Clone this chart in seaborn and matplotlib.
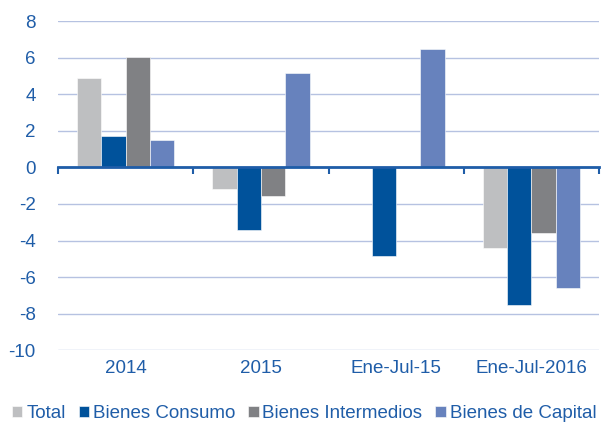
import matplotlib
matplotlib.use("Agg")
import matplotlib.pyplot as plt
import seaborn as sns
import pandas as pd

# categories and series
periods = ["2014", "2015", "Ene-Jul-15", "Ene-Jul-2016"]
series = ["Total", "Bienes Consumo", "Bienes Intermedios", "Bienes de Capital"]
total = [4.9, -1.2, 0.0, -4.4]
consumo = [1.7, -3.45, -4.85, -7.55]
intermedios = [6.05, -1.55, 0.0, -3.6]
capital = [1.5, 5.15, 6.5, -6.6]
yticks = [-10, -8, -6, -4, -2, 0, 2, 4, 6, 8]

colors = ["#BEBFC1", "#00529B", "#808184", "#6782BD"]
blue_text = "#1F5DA8"

df = pd.DataFrame({
    "periodo": periods * 4,
    "serie": [s for s in series for _ in periods],
    "valor": total + consumo + intermedios + capital,
})

sns.set_style("white")
plt.rcParams["font.family"] = ["Liberation Sans", "DejaVu Sans"]
plt.rcParams["axes.unicode_minus"] = False

fig, ax = plt.subplots(figsize=(6.05, 4.23), dpi=100)
fig.subplots_adjust(left=0.096, right=0.99, top=0.95, bottom=0.172)

sns.barplot(data=df, x="periodo", y="valor", hue="serie", order=periods,
            hue_order=series, palette=colors, width=0.72, saturation=1,
            ax=ax, edgecolor="white", linewidth=0.4, legend=True)

ax.set_ylim(-10, 8)
ax.set_yticks(yticks)
ax.set_xlim(-0.5, len(periods) - 0.5)
ax.grid(axis="y", color="#B6C2E1", linewidth=1)
ax.set_axisbelow(True)
for k in ["top", "left", "right"]:
    ax.spines[k].set_visible(False)
ax.set_xlabel("")
ax.set_ylabel("")

# zero line with boundary ticks
ax.spines["bottom"].set_position(("data", 0))
ax.spines["bottom"].set_color(blue_text)
ax.spines["bottom"].set_linewidth(2)
ax.spines["bottom"].set_zorder(5)
ax.set_xticks([i - 0.5 for i in range(len(periods) + 1)])
ax.set_xticklabels([])
ax.tick_params(axis="x", length=5, width=1.5, color=blue_text,
               direction="out", bottom=True)
ax.tick_params(axis="y", length=0, labelsize=13.5, labelcolor=blue_text, pad=16)

# category labels along the bottom
sec = ax.secondary_xaxis("bottom")
sec.set_xticks(range(len(periods)))
sec.set_xticklabels(periods)
sec.tick_params(length=0, labelsize=13.5, labelcolor=blue_text, pad=7)
sec.spines["bottom"].set_visible(False)

handles, labels = ax.get_legend_handles_labels()
ax.legend(handles, labels, loc="upper center", bbox_to_anchor=(0.455, -0.115),
          ncol=4, frameon=False, fontsize=13.5, handlelength=0.55,
          handleheight=0.55, handletextpad=0.2, columnspacing=0.7,
          labelcolor=blue_text)

fig.savefig("out.png", dpi=100)
